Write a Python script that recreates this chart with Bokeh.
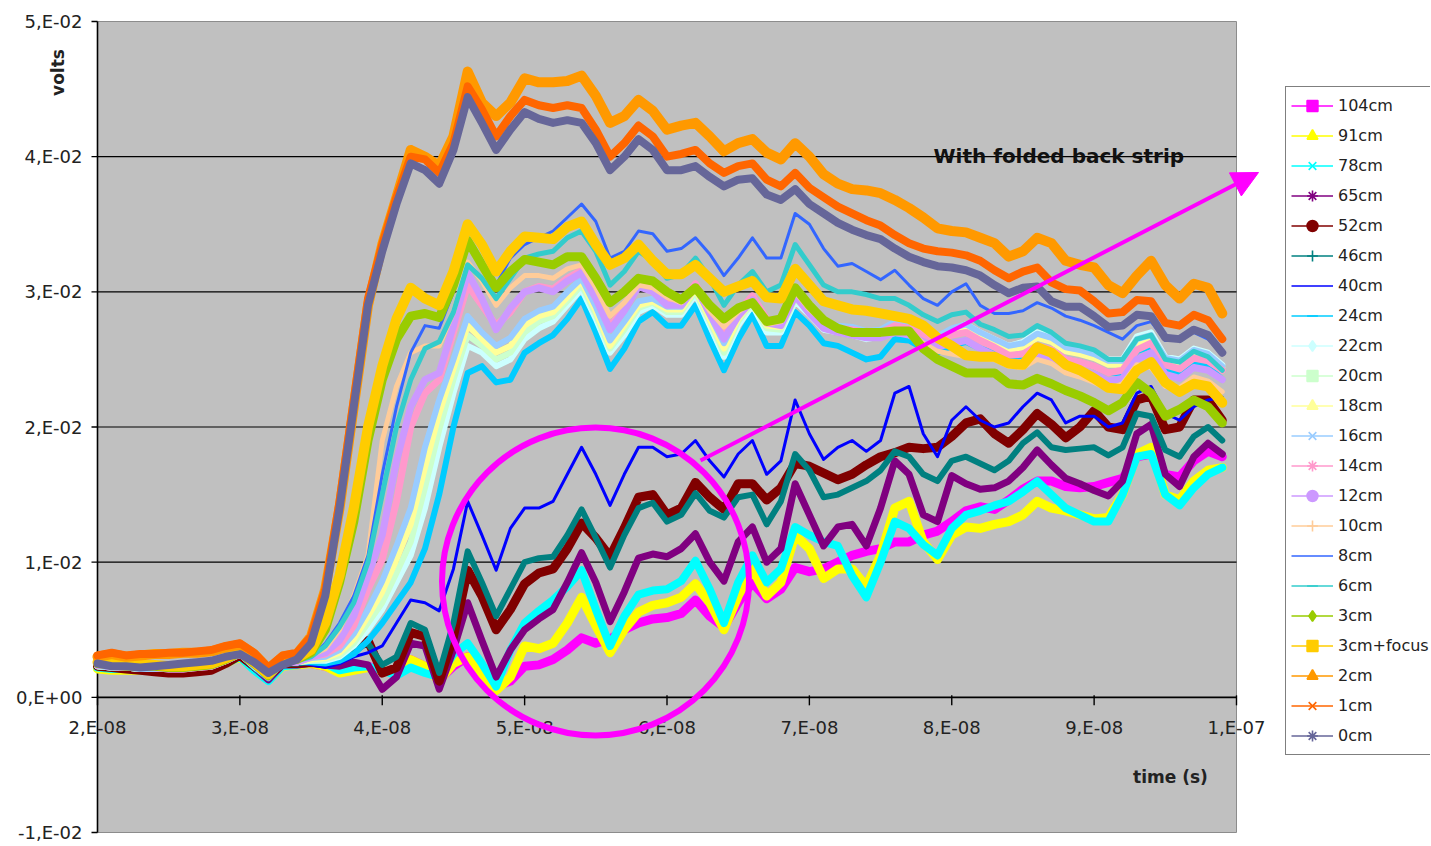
import math
from bokeh.plotting import figure
from bokeh.models import Range1d, Legend, LegendItem, Label, Arrow, NormalHead
from bokeh.core.properties import value
from bokeh.embed import file_html
from bokeh.resources import INLINE

# ---------------- data (time in ns, values in mV) ----------------
time_ns = list(range(20, 100))

v_104cm = [2.4, 2.3, 2.2, 2.2, 2.1, 2.1, 2.1, 2.2, 2.3, 2.7, 3.2, 2.3, 1.4, 2.5, 2.5,
           2.5, 2.3, 1.9, 2.1, 2.3, 2.0, 1.8, 2.8, 2.3, 1.3, 2.3, 3.0, 1.8, 0.8, 1.2,
           2.3, 2.4, 2.8, 3.5, 4.4, 4.0, 4.3, 5.0, 5.5, 5.8, 5.9, 6.2, 7.2, 6.0, 5.2,
           7.0, 8.5, 7.3, 8.0, 9.6, 9.3, 9.5, 10.0, 10.5, 10.8, 11.0, 11.5, 11.5, 12.0, 12.3,
           13.0, 13.8, 14.1, 13.9, 14.6, 15.4, 16.0, 16.0, 15.6, 15.5, 15.6, 15.9, 16.2, 17.8, 18.0,
           16.5, 16.3, 17.5, 18.2, 17.8]
v_91cm = [2.1, 2.0, 2.0, 2.0, 2.0, 2.0, 2.0, 2.1, 2.2, 2.5, 3.0, 2.1, 1.3, 2.3, 2.4,
          2.5, 2.3, 1.8, 2.0, 2.2, 2.0, 1.8, 2.8, 2.3, 1.2, 2.5, 3.0, 1.5, 0.5, 1.5,
          3.8, 3.6, 4.0, 5.5, 7.4, 5.3, 3.3, 5.0, 6.3, 6.8, 7.0, 7.4, 8.4, 7.0, 5.0,
          7.5, 9.5, 7.5, 8.5, 12.0, 11.0, 8.8, 9.5, 9.5, 8.2, 10.5, 14.0, 14.5, 11.5, 10.2,
          12.0, 12.6, 12.5, 12.8, 13.0, 13.5, 14.5, 14.0, 13.8, 13.5, 13.2, 13.3, 15.0, 18.0, 18.5,
          15.0, 14.6, 16.0, 16.8, 17.0]
v_78cm = [2.2, 2.1, 2.1, 2.0, 2.0, 2.0, 2.0, 2.1, 2.2, 2.5, 3.0, 2.0, 1.2, 2.3, 2.4,
          2.6, 2.5, 2.0, 2.2, 2.3, 2.0, 1.6, 2.2, 1.8, 1.5, 3.2, 4.0, 2.5, 0.8, 3.5,
          5.5, 6.4, 7.2, 8.2, 9.4, 6.5, 3.8, 6.0, 7.6, 7.9, 8.0, 8.6, 10.1, 8.0, 5.5,
          8.5, 10.5, 8.5, 9.5, 12.6, 12.0, 11.5, 11.2, 9.0, 7.4, 10.0, 13.0, 12.5, 11.3, 10.5,
          12.5, 13.5, 13.8, 14.2, 14.5, 15.2, 16.0, 15.0, 14.0, 13.5, 13.0, 13.0, 15.0, 17.8, 18.0,
          15.0, 14.2, 15.5, 16.5, 17.0]
v_65cm = [2.3, 2.2, 2.1, 2.1, 2.0, 2.0, 2.0, 2.1, 2.2, 2.6, 3.1, 2.2, 1.3, 2.4, 2.4,
          2.5, 2.4, 2.3, 2.6, 2.4, 0.6, 1.5, 4.0, 3.8, 0.6, 3.5, 7.0, 4.2, 1.5, 3.5,
          5.0, 5.8, 6.5, 8.5, 10.7, 8.5, 5.6, 7.8, 10.3, 10.6, 10.4, 11.0, 12.1, 10.0, 8.6,
          11.5, 12.6, 10.0, 11.0, 15.8, 13.5, 11.2, 12.6, 12.8, 11.2, 14.0, 17.5, 16.5, 13.5, 13.0,
          16.4, 15.8, 15.4, 15.5, 16.0, 17.0, 18.3, 17.2, 16.2, 15.8, 15.3, 14.9, 16.0, 19.5, 20.2,
          16.5, 15.6, 17.8, 18.8, 18.0]
v_52cm = [2.3, 2.2, 2.1, 2.0, 1.9, 1.8, 1.8, 1.9, 2.0, 2.5, 3.1, 2.3, 1.6, 2.5, 2.5,
          2.6, 2.5, 2.8, 3.5, 4.2, 1.8, 2.2, 4.8, 4.5, 1.2, 4.5, 9.4, 7.5, 5.0, 6.5,
          8.4, 9.2, 9.5, 11.0, 12.9, 11.8, 10.4, 12.5, 14.8, 15.0, 13.5, 14.0, 15.9, 14.8, 13.9,
          15.8, 15.8, 14.6, 15.5, 17.3, 17.1, 16.6, 16.1, 16.5, 17.2, 17.8, 18.1, 18.5, 18.4, 18.5,
          19.3, 20.3, 20.6, 19.5, 18.8, 19.8, 21.0, 20.2, 19.2, 20.0, 21.2, 20.0, 19.8, 22.0, 22.3,
          19.8, 20.0, 22.0, 22.0, 20.5]
v_46cm = [2.4, 2.3, 2.2, 2.2, 2.2, 2.1, 2.1, 2.2, 2.3, 2.7, 3.2, 2.4, 1.5, 2.5, 2.5,
          2.7, 2.6, 3.0, 3.6, 4.0, 2.4, 3.0, 5.5, 5.0, 1.8, 5.5, 10.8, 8.5, 6.0, 8.0,
          10.0, 10.3, 10.4, 12.0, 13.9, 11.8, 9.6, 12.0, 14.0, 14.4, 13.0, 13.5, 15.1, 13.8, 13.3,
          14.8, 15.0, 12.8, 14.5, 18.0, 16.8, 14.8, 15.0, 15.5, 16.0, 16.8, 18.2, 17.8, 16.5, 16.0,
          17.5, 17.8, 17.3, 16.8, 17.5, 18.8, 19.6, 18.5, 18.3, 18.4, 18.5, 17.9, 18.5, 21.0, 20.8,
          18.3, 17.8, 19.3, 20.0, 19.0]
v_40cm = [2.4, 2.3, 2.2, 2.2, 2.2, 2.2, 2.2, 2.3, 2.4, 2.8, 3.3, 2.5, 1.6, 2.6, 2.6,
          2.4, 2.2, 2.5, 3.0, 3.3, 3.8, 5.5, 7.2, 7.0, 6.4, 9.5, 14.5, 12.0, 9.4, 12.5,
          14.0, 14.0, 14.5, 16.5, 18.5, 16.5, 14.2, 16.5, 18.5, 18.5, 17.8, 18.0, 19.0, 17.5, 16.3,
          18.0, 19.0, 16.5, 17.5, 22.0, 19.5, 17.6, 18.5, 19.0, 18.2, 19.0, 22.5, 23.0, 19.5, 17.8,
          20.5, 21.5, 20.5, 20.0, 20.3, 21.5, 22.5, 22.0, 20.3, 20.8, 20.8, 20.0, 20.3, 22.5, 23.0,
          21.0, 20.5, 21.5, 22.0, 22.2]
v_24cm = [2.3, 2.2, 2.2, 2.1, 2.1, 2.1, 2.1, 2.2, 2.3, 2.7, 3.2, 2.2, 1.4, 2.5, 2.6,
          2.6, 2.5, 2.7, 3.2, 4.2, 5.5, 7.0, 8.5, 11.0, 15.0, 20.0, 24.0, 24.5, 23.3, 23.5,
          25.5, 26.2, 26.8, 28.0, 29.5, 27.0, 24.3, 25.8, 27.8, 28.5, 27.5, 27.5, 29.0, 26.5, 24.2,
          26.5, 28.3, 26.0, 26.0, 28.5, 27.5, 26.2, 26.0, 25.5, 25.0, 25.2, 26.5, 26.4, 25.8, 25.5,
          26.0, 26.3, 25.8, 25.5, 25.0, 25.2, 25.8, 25.6, 25.0, 24.8, 24.5, 24.0, 24.0, 25.6, 26.0,
          24.3, 24.0, 24.8, 24.5, 23.5]
v_22cm = [2.3, 2.2, 2.2, 2.1, 2.1, 2.1, 2.1, 2.2, 2.3, 2.7, 3.2, 2.3, 1.5, 2.5, 2.6,
          2.7, 2.7, 3.0, 3.8, 5.0, 6.5, 8.5, 10.5, 14.0, 18.5, 22.5, 26.0, 25.5, 24.5, 25.0,
          26.5, 27.3, 27.8, 29.0, 30.2, 28.0, 25.5, 26.8, 28.5, 29.0, 28.3, 28.3, 29.8, 27.5, 25.2,
          27.5, 29.0, 27.0, 27.0, 29.3, 28.3, 27.2, 27.0, 26.8, 26.5, 26.7, 27.5, 27.3, 26.8, 26.5,
          27.2, 27.6, 27.0, 26.5, 26.0, 26.3, 27.0, 26.7, 26.0, 25.8, 25.5, 25.0, 25.0, 26.7, 27.0,
          25.2, 25.0, 25.8, 25.5, 24.6]
v_20cm = [2.3, 2.2, 2.2, 2.1, 2.1, 2.1, 2.1, 2.2, 2.3, 2.7, 3.2, 2.3, 1.5, 2.5, 2.6,
          2.7, 2.8, 3.1, 4.0, 5.5, 7.0, 9.2, 11.5, 15.5, 19.8, 23.5, 26.8, 26.0, 25.0, 25.5,
          27.0, 27.8, 28.2, 29.3, 30.5, 28.3, 25.8, 27.2, 28.8, 29.2, 28.5, 28.5, 30.0, 27.8, 25.5,
          27.8, 29.2, 27.3, 27.2, 29.5, 28.5, 27.4, 27.2, 27.0, 26.7, 26.8, 27.6, 27.4, 26.9, 26.6,
          27.2, 27.5, 26.9, 26.4, 25.9, 26.1, 26.8, 26.5, 25.8, 25.6, 25.3, 24.8, 24.8, 26.5, 26.8,
          25.0, 24.8, 25.6, 25.3, 24.4]
v_18cm = [2.3, 2.2, 2.2, 2.1, 2.1, 2.1, 2.1, 2.2, 2.3, 2.7, 3.2, 2.3, 1.5, 2.5, 2.6,
          2.8, 2.9, 3.3, 4.3, 6.0, 7.8, 10.2, 12.8, 17.0, 21.0, 24.3, 27.5, 26.5, 25.5, 26.0,
          27.5, 28.2, 28.5, 29.6, 30.8, 28.6, 26.0, 27.5, 29.0, 29.3, 28.7, 28.7, 30.2, 28.0, 25.8,
          28.0, 29.4, 27.5, 27.4, 29.7, 28.6, 27.5, 27.3, 27.1, 26.8, 26.9, 27.6, 27.4, 26.8, 26.5,
          27.0, 27.3, 26.7, 26.2, 25.7, 25.9, 26.6, 26.3, 25.6, 25.4, 25.1, 24.6, 24.6, 26.2, 26.5,
          24.8, 24.6, 25.4, 25.1, 24.2]
v_16cm = [2.3, 2.2, 2.2, 2.1, 2.1, 2.1, 2.1, 2.2, 2.3, 2.7, 3.2, 2.3, 1.5, 2.5, 2.6,
          2.9, 3.0, 3.5, 4.7, 6.5, 8.6, 11.2, 14.0, 18.5, 22.0, 25.0, 28.2, 27.0, 26.0, 26.6,
          28.0, 28.6, 28.9, 30.0, 31.0, 28.9, 26.4, 27.8, 29.3, 29.5, 28.9, 28.9, 30.4, 28.3, 26.2,
          28.3, 29.6, 27.8, 27.7, 30.0, 28.8, 27.7, 27.5, 27.4, 27.1, 27.2, 27.8, 27.6, 27.0, 26.7,
          27.3, 27.6, 27.0, 26.5, 26.0, 26.2, 26.9, 26.6, 25.9, 25.7, 25.4, 24.9, 24.9, 26.5, 26.8,
          25.1, 24.9, 25.7, 25.4, 24.5]
v_14cm = [2.4, 2.3, 2.2, 2.2, 2.2, 2.1, 2.1, 2.2, 2.3, 2.7, 3.2, 2.4, 1.5, 2.6, 2.6,
          3.0, 3.2, 3.8, 5.3, 8.0, 10.2, 14.5, 20.0, 22.5, 23.5, 27.0, 30.5, 29.0, 27.5, 28.5,
          30.0, 30.4, 30.2, 31.0, 31.6, 29.8, 27.4, 28.8, 30.5, 30.2, 29.3, 29.2, 30.6, 28.6, 26.8,
          28.5, 29.7, 28.0, 27.8, 30.0, 28.7, 27.6, 27.3, 27.2, 27.0, 27.0, 27.5, 27.3, 26.8, 26.4,
          26.8, 27.0, 26.4, 25.9, 25.3, 25.4, 26.0, 25.7, 25.0, 24.8, 24.5, 24.0, 24.2, 25.7, 26.2,
          24.6, 24.3, 25.1, 24.9, 24.2]
v_12cm = [2.4, 2.3, 2.2, 2.2, 2.2, 2.1, 2.1, 2.2, 2.3, 2.7, 3.2, 2.4, 1.5, 2.6, 2.6,
          3.0, 3.3, 4.2, 6.0, 9.0, 12.0, 17.5, 21.5, 23.5, 24.0, 27.5, 31.4, 29.5, 27.2, 28.8,
          30.0, 30.3, 30.0, 30.8, 31.4, 29.5, 27.2, 28.6, 30.4, 30.0, 29.0, 29.0, 30.4, 28.4, 26.5,
          28.2, 29.4, 27.7, 27.5, 29.7, 28.4, 27.3, 27.0, 26.8, 26.6, 26.6, 27.0, 26.8, 26.3, 25.9,
          26.2, 26.4, 25.8, 25.3, 24.7, 24.8, 25.4, 25.1, 24.4, 24.2, 23.9, 23.4, 23.6, 25.0, 25.5,
          23.9, 23.6, 24.4, 24.2, 23.5]
v_10cm = [2.4, 2.3, 2.2, 2.2, 2.2, 2.1, 2.1, 2.2, 2.3, 2.7, 3.2, 2.4, 1.5, 2.6, 2.7,
          3.1, 3.6, 5.0, 7.5, 10.5, 19.0, 23.0, 25.5, 26.0, 26.0, 28.5, 32.2, 30.8, 29.0, 30.3,
          31.2, 31.2, 31.0, 31.7, 32.0, 30.3, 28.2, 29.2, 30.5, 30.3, 29.6, 29.2, 30.2, 28.6, 27.4,
          28.5, 29.3, 27.6, 27.8, 30.0, 28.7, 27.8, 27.3, 27.1, 27.0, 27.0, 27.2, 27.1, 26.2, 25.6,
          25.4, 25.2, 25.1, 25.0, 24.5, 24.4, 25.0, 24.7, 24.0, 23.7, 23.3, 22.8, 23.2, 24.6, 24.4,
          23.0, 22.9, 23.7, 23.4, 22.6]
v_8cm = [2.4, 2.3, 2.2, 2.2, 2.2, 2.1, 2.1, 2.2, 2.3, 2.7, 3.2, 2.4, 1.5, 2.6, 2.7,
         3.0, 4.0, 5.5, 7.5, 10.5, 16.5, 21.5, 25.5, 27.5, 27.3, 30.0, 33.5, 32.2, 30.5, 32.5,
         33.5, 34.0, 34.5, 35.5, 36.5, 35.2, 32.5, 33.0, 34.5, 34.3, 33.0, 33.2, 34.0, 32.8, 31.2,
         32.5, 34.0, 32.5, 32.5, 35.8, 35.0, 33.2, 31.9, 32.1, 31.5, 30.9, 31.6, 30.5, 29.5, 29.0,
         30.0, 30.6, 29.0, 28.4, 28.4, 28.6, 29.2, 28.8, 28.2, 27.9, 27.5, 27.0, 26.5, 27.5, 27.8,
         26.4, 26.4, 27.0, 26.5, 25.5]
v_6cm = [2.4, 2.3, 2.2, 2.2, 2.2, 2.1, 2.1, 2.2, 2.3, 2.7, 3.2, 2.4, 1.5, 2.6, 2.7,
         3.0, 3.8, 5.2, 7.0, 10.0, 15.0, 20.0, 23.5, 25.8, 26.3, 28.5, 32.0, 31.0, 29.5, 31.0,
         32.5, 32.8, 33.0, 34.0, 34.5, 33.0, 30.5, 31.5, 33.0, 32.3, 31.0, 31.3, 32.5, 31.0, 29.0,
         30.5, 31.5, 30.0, 30.5, 33.5, 32.0, 30.5, 30.0, 30.0, 29.8, 29.5, 29.5, 29.0, 28.3, 27.8,
         28.3, 28.5, 27.6, 27.2, 26.7, 26.8, 27.5, 27.0, 26.2, 26.0, 25.7, 25.0, 25.0, 26.5, 26.8,
         25.0, 24.8, 25.6, 25.2, 24.2]
v_3cm = [2.5, 2.4, 2.3, 2.3, 2.3, 2.2, 2.2, 2.3, 2.4, 2.8, 3.3, 2.5, 1.6, 2.7, 2.8,
         3.3, 5.0, 8.5, 13.0, 19.0, 23.5, 26.5, 28.2, 28.4, 28.1, 30.5, 33.8, 32.0, 30.3, 31.5,
         32.4, 32.2, 32.0, 32.6, 32.6, 31.0, 29.2, 30.0, 31.0, 30.8, 30.0, 29.4, 30.3, 29.0, 28.0,
         28.8, 29.2, 27.8, 28.0, 30.3, 29.0, 27.9, 27.3, 27.0, 27.0, 27.0, 27.1, 27.1, 25.8, 25.0,
         24.5, 24.0, 24.0, 24.0, 23.2, 23.1, 23.6, 23.2, 22.7, 22.3, 21.8, 21.2, 21.8, 23.3, 22.5,
         20.8, 21.3, 22.0, 21.5, 20.3]
v_3cm_focus = [2.6, 2.5, 2.4, 2.4, 2.4, 2.3, 2.3, 2.4, 2.5, 2.9, 3.4, 2.6, 1.7, 2.8, 2.9,
               3.5, 5.5, 9.0, 14.0, 20.0, 24.5, 28.0, 30.3, 29.5, 29.0, 31.5, 35.0, 33.5, 31.5, 33.0,
               34.1, 34.0, 33.9, 34.8, 35.2, 33.5, 32.0, 32.5, 33.5, 32.3, 31.3, 31.3, 32.0, 31.0, 30.0,
               30.4, 30.8, 29.6, 29.5, 31.7, 30.5, 29.3, 29.0, 28.7, 28.6, 28.4, 28.2, 28.0, 27.5, 26.6,
               26.0, 25.3, 25.2, 25.2, 24.7, 24.6, 25.9, 25.5, 24.6, 24.2, 23.6, 22.9, 22.8, 24.2, 24.8,
               23.3, 22.6, 23.2, 23.0, 21.8]
v_2cm = [3.0, 3.2, 3.0, 3.1, 3.2, 3.2, 3.3, 3.3, 3.4, 3.7, 3.9, 3.2, 2.1, 3.0, 3.2,
         4.5, 8.0, 14.0, 21.5, 29.0, 33.5, 37.0, 40.5, 40.0, 39.3, 41.5, 46.3, 44.0, 43.0, 44.0,
         45.8, 45.5, 45.5, 45.6, 46.0, 44.5, 42.5, 43.0, 44.2, 43.4, 42.0, 42.3, 42.5, 41.5, 40.4,
         41.0, 41.3, 40.3, 39.8, 41.0, 40.0, 38.7, 38.0, 37.6, 37.5, 37.3, 36.8, 36.2, 35.5, 34.7,
         34.5, 34.4, 34.0, 33.6, 32.6, 33.0, 34.0, 33.6, 32.3, 32.0, 31.8, 30.5, 29.9, 31.2, 32.3,
         30.5, 29.5, 30.6, 30.3, 28.4]
v_1cm = [3.1, 3.3, 3.1, 3.2, 3.2, 3.3, 3.3, 3.4, 3.5, 3.8, 4.0, 3.3, 2.2, 3.1, 3.3,
         4.5, 8.0, 14.5, 22.0, 29.5, 33.5, 37.0, 40.0, 39.8, 38.8, 41.0, 45.2, 43.5, 41.5, 43.0,
         44.2, 43.8, 43.6, 43.8, 43.6, 42.0, 40.0, 41.0, 42.3, 41.5, 40.0, 40.2, 40.5, 39.5, 38.8,
         39.3, 39.5, 38.3, 37.8, 38.8, 37.7, 37.0, 36.3, 35.8, 35.3, 34.9, 34.2, 33.6, 33.2, 33.0,
         32.9, 32.7, 32.3, 31.6, 31.0, 31.5, 31.8, 30.7, 30.2, 30.1, 29.3, 28.4, 28.5, 29.4, 29.3,
         27.7, 27.5, 28.3, 27.9, 26.5]
v_0cm = [2.5, 2.3, 2.3, 2.2, 2.3, 2.4, 2.5, 2.6, 2.7, 3.0, 3.2, 2.6, 1.8, 2.4, 2.8,
         4.0, 7.5, 14.0, 21.5, 29.0, 33.0, 36.5, 39.5, 39.0, 38.0, 40.5, 44.4, 42.5, 40.5, 42.0,
         43.3, 42.8, 42.5, 42.7, 42.5, 41.0, 39.0, 40.0, 41.3, 40.5, 39.0, 39.0, 39.3, 38.5, 37.8,
         38.3, 38.4, 37.2, 36.8, 37.6, 36.5, 35.8, 35.1, 34.6, 34.2, 33.9, 33.2, 32.6, 32.2, 31.9,
         31.8, 31.6, 31.2, 30.5, 29.9, 30.3, 30.4, 29.3, 28.9, 28.9, 28.2, 27.4, 27.5, 28.3, 28.2,
         26.6, 26.5, 27.2, 26.8, 25.5]

series_labels = ["104cm", "91cm", "78cm", "65cm", "52cm", "46cm", "40cm", "24cm", "22cm",
                 "20cm", "18cm", "16cm", "14cm", "12cm", "10cm", "8cm", "6cm", "3cm",
                 "3cm+focus", "2cm", "1cm", "0cm"]
series_values = [v_104cm, v_91cm, v_78cm, v_65cm, v_52cm, v_46cm, v_40cm, v_24cm, v_22cm,
                 v_20cm, v_18cm, v_16cm, v_14cm, v_12cm, v_10cm, v_8cm, v_6cm, v_3cm,
                 v_3cm_focus, v_2cm, v_1cm, v_0cm]
series_colors = ["#FF00FF", "#FFFF00", "#00FFFF", "#800080", "#800000", "#008080", "#0000FF",
                 "#00CCFF", "#CCFFFF", "#CCFFCC", "#FFFF99", "#99CCFF", "#FF99CC", "#CC99FF",
                 "#FFCC99", "#3366FF", "#33CCCC", "#99CC00", "#FFCC00", "#FF9900", "#FF6600",
                 "#666699"]
series_markers = ["square", "triangle", "x", "asterisk", "circle", "cross", None, "dash",
                  "diamond", "square", "triangle", "x", "asterisk", "circle", "cross", None,
                  "dash", "diamond", "square", "triangle", "x", "asterisk"]
series_widths = [9, 9, 8, 7, 9, 6, 3, 6, 6, 6, 6, 6, 7, 7, 5, 3, 5, 9, 10, 10, 8, 8]

y_ticks = [-0.01, 0.0, 0.01, 0.02, 0.03, 0.04, 0.05]
y_tick_labels = ["-1,E-02", "0,E+00", "1,E-02", "2,E-02", "3,E-02", "4,E-02", "5,E-02"]
y_grid = [0.01, 0.02, 0.03, 0.04]
x_ticks_ns = [20, 30, 40, 50, 60, 70, 80, 90, 100]
x_tick_labels = ["2,E-08", "3,E-08", "4,E-08", "5,E-08", "6,E-08", "7,E-08", "8,E-08",
                 "9,E-08", "1,E-07"]

FONT = "DejaVu Sans"
X_MIN, X_MAX = 2e-8, 1e-7
Y_MIN, Y_MAX = -0.01, 0.05

# ---------------- layout helpers (pixel <-> data, for placement only) ----------------
W, H = 1430, 845
PL, PR, PT, PB = 97, 1236, 21, 832   # plot-area edges in canvas pixels


def px_x(px):
    return X_MIN + (px - PL) / (PR - PL) * (X_MAX - X_MIN)


def px_y(py):
    return Y_MAX - (py - PT) / (PB - PT) * (Y_MAX - Y_MIN)


dx = (X_MAX - X_MIN) / (PR - PL)    # data per pixel (x)
dy = (Y_MAX - Y_MIN) / (PB - PT)    # data per pixel (y)

p = figure(width=W, height=H, output_backend="svg", toolbar_location=None,
           x_range=Range1d(px_x(0), px_x(W)), y_range=Range1d(px_y(H), px_y(0)),
           x_axis_location=None, y_axis_location=None, min_border=0)
p.background_fill_color = "white"
p.border_fill_color = "white"
p.outline_line_color = None
p.grid.visible = False

# plot area
p.quad(left=[X_MIN], right=[X_MAX], bottom=[Y_MIN], top=[Y_MAX],
       fill_color="#C0C0C0", line_color="#8C8C8C", line_width=1)
# horizontal grid lines
p.segment(x0=[X_MIN] * len(y_grid), x1=[X_MAX] * len(y_grid), y0=y_grid, y1=y_grid,
          line_color="black", line_width=1.2)
# zero line (x axis)
p.segment(x0=[X_MIN], x1=[X_MAX], y0=[0.0], y1=[0.0], line_color="black", line_width=1.6)
# y axis line and ticks
p.segment(x0=[X_MIN], x1=[X_MIN], y0=[Y_MIN], y1=[Y_MAX], line_color="black", line_width=1.6)
p.segment(x0=[X_MIN - 6 * dx] * len(y_ticks), x1=[X_MIN] * len(y_ticks), y0=y_ticks,
          y1=y_ticks, line_color="black", line_width=1.4)
p.text(x=[X_MIN - 15 * dx] * len(y_ticks), y=y_ticks, text=y_tick_labels,
       text_font=value(FONT), text_font_size="18px", text_color="#222222",
       text_align="right", text_baseline="middle")
# x ticks and labels on the zero line
xt = [t * 1e-9 for t in x_ticks_ns]
p.segment(x0=xt, x1=xt, y0=[2 * dy] * len(xt), y1=[-8 * dy] * len(xt),
          line_color="black", line_width=1.4)
p.text(x=xt, y=[px_y(727)] * len(xt), text=x_tick_labels, text_font=value(FONT),
       text_font_size="18px", text_color="#222222", text_align="center",
       text_baseline="middle")

# ---------------- series ----------------
xs = [t * 1e-9 for t in time_ns]
for vals, col, w in zip(series_values, series_colors, series_widths):
    ys = [v * 1e-3 for v in vals]
    p.line(xs, ys, line_color=col, line_width=w, line_join="round", line_cap="round")

# ---------------- legend (sample glyphs only, no plotted points) ----------------
nan = float("nan")
items = []
for lab, col, mk in zip(series_labels, series_colors, series_markers):
    rl = p.line(x=[nan], y=[nan], line_color=col, line_width=1.6)
    rends = [rl]
    if mk is not None:
        rm = p.scatter(x=[nan], y=[nan], marker=mk, size=10, fill_color=col, line_color=col,
                       line_width=1.6)
        rends.append(rm)
    items.append(LegendItem(label=lab, renderers=rends))

leg_h = 22 * 27 + 21 * 3 + 2 * 5
legend = Legend(items=items, location=(1285, H - (88 + leg_h)), orientation="vertical",
                border_line_color="black", border_line_width=1,
                background_fill_color="white", background_fill_alpha=1.0,
                label_text_font=FONT, label_text_font_size="16px",
                label_text_color="#222222", glyph_width=42, glyph_height=27,
                label_height=27, label_standoff=5, spacing=3, padding=5, margin=0)
p.add_layout(legend)

# ---------------- annotations ----------------
p.ellipse(x=[px_x(595)], y=[px_y(581)], width=[307 * dx], height=[308 * dy],
          fill_alpha=0, line_color="#FF00FF", line_width=6)

p.add_layout(Arrow(end=NormalHead(size=26, fill_color="#FF00FF", line_color="#FF00FF"),
                   x_start=px_x(700), y_start=px_y(460), x_end=px_x(1258), y_end=px_y(172),
                   line_color="#FF00FF", line_width=4))

p.add_layout(Label(x=px_x(933), y=px_y(155), text="With folded back strip", text_font=FONT,
                   text_font_style="bold", text_font_size="20px", text_color="#111111",
                   text_baseline="middle", text_align="left"))
p.add_layout(Label(x=px_x(1170), y=px_y(776), text="time (s)", text_font=FONT,
                   text_font_style="bold", text_font_size="17px", text_color="#222222",
                   text_baseline="middle", text_align="center"))
p.add_layout(Label(x=px_x(57), y=px_y(72), text="volts", text_font=FONT,
                   text_font_style="bold", text_font_size="17px", text_color="#222222",
                   text_baseline="middle", text_align="center", angle=math.pi / 2))

open("out.html", "w").write(file_html(p, INLINE))
